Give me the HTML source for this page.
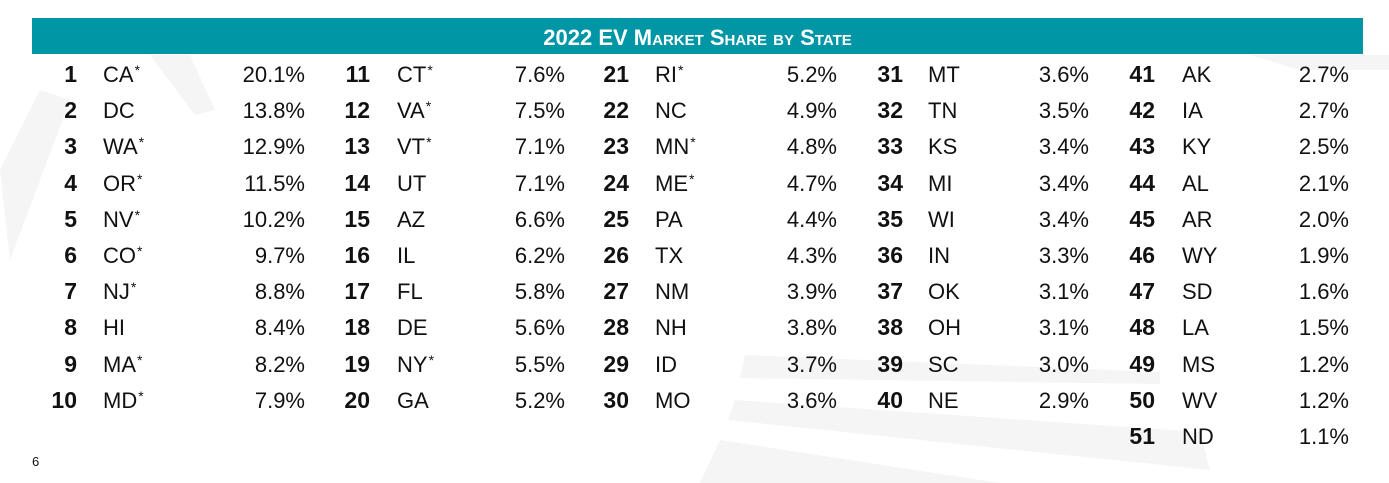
<!DOCTYPE html><html><head><style>
body{margin:0;width:1389px;height:483px;background:#fff;position:relative;overflow:hidden;font-family:"Liberation Sans",sans-serif;color:#111}
.bar{position:absolute;left:32px;top:18px;width:1331px;height:36px;background:#0096a6;color:#fff;font-weight:bold;font-size:22px;text-align:center;line-height:40px;font-variant:small-caps}
.c{position:absolute;font-size:22px;line-height:26px;white-space:nowrap}
.r{font-weight:bold;text-align:right;width:50px;font-size:23px;margin-top:-1px}
.p{text-align:right;width:90px}
.s i{font-style:normal;font-size:14px;position:relative;top:-7px;margin-left:1px}
.pg{position:absolute;left:32px;top:454px;font-size:13px}
</style></head><body>
<svg style="position:absolute;left:0;top:0" width="1389" height="483"><g fill="#f5f5f5">
<polygon points="0,170 40,90 70,100 10,260"/><polygon points="150,55 190,55 215,110 195,115"/>
<polygon points="745,355 1160,372 1160,384 740,378"/><polygon points="735,400 1200,432 1210,470 728,420"/>
<polygon points="720,440 1000,483 700,483"/><polygon points="1250,55 1389,55 1389,70 1300,70"/>
</g></svg>
<div class="bar">2022 EV Market Share by State</div>
<div id="t"></div>
<div class="pg">6</div>
<script>
var d=[["CA*","20.1%"],["DC","13.8%"],["WA*","12.9%"],["OR*","11.5%"],["NV*","10.2%"],["CO*","9.7%"],["NJ*","8.8%"],["HI","8.4%"],["MA*","8.2%"],["MD*","7.9%"],
["CT*","7.6%"],["VA*","7.5%"],["VT*","7.1%"],["UT","7.1%"],["AZ","6.6%"],["IL","6.2%"],["FL","5.8%"],["DE","5.6%"],["NY*","5.5%"],["GA","5.2%"],
["RI*","5.2%"],["NC","4.9%"],["MN*","4.8%"],["ME*","4.7%"],["PA","4.4%"],["TX","4.3%"],["NM","3.9%"],["NH","3.8%"],["ID","3.7%"],["MO","3.6%"],
["MT","3.6%"],["TN","3.5%"],["KS","3.4%"],["MI","3.4%"],["WI","3.4%"],["IN","3.3%"],["OK","3.1%"],["OH","3.1%"],["SC","3.0%"],["NE","2.9%"],
["AK","2.7%"],["IA","2.7%"],["KY","2.5%"],["AL","2.1%"],["AR","2.0%"],["WY","1.9%"],["SD","1.6%"],["LA","1.5%"],["MS","1.2%"],["WV","1.2%"],["ND","1.1%"]];
var cols=[[77,103,305],[370,397,565],[629,655,837],[903,928,1089],[1155,1182,1349]];
var h="";
d.forEach(function(e,i){var c=Math.min(4,Math.floor(i/10)),row=i-c*10;var y=Math.round(62+row*36.2);var k=cols[c];
var st=e[0].replace("*","<i>*</i>");
h+='<div class="c r" style="left:'+(k[0]-50)+'px;top:'+y+'px">'+(i+1)+'</div>';
h+='<div class="c s" style="left:'+k[1]+'px;top:'+y+'px">'+st+'</div>';
h+='<div class="c p" style="left:'+(k[2]-90)+'px;top:'+y+'px">'+e[1]+'</div>';});
document.getElementById("t").innerHTML=h;
</script>
</body></html>
